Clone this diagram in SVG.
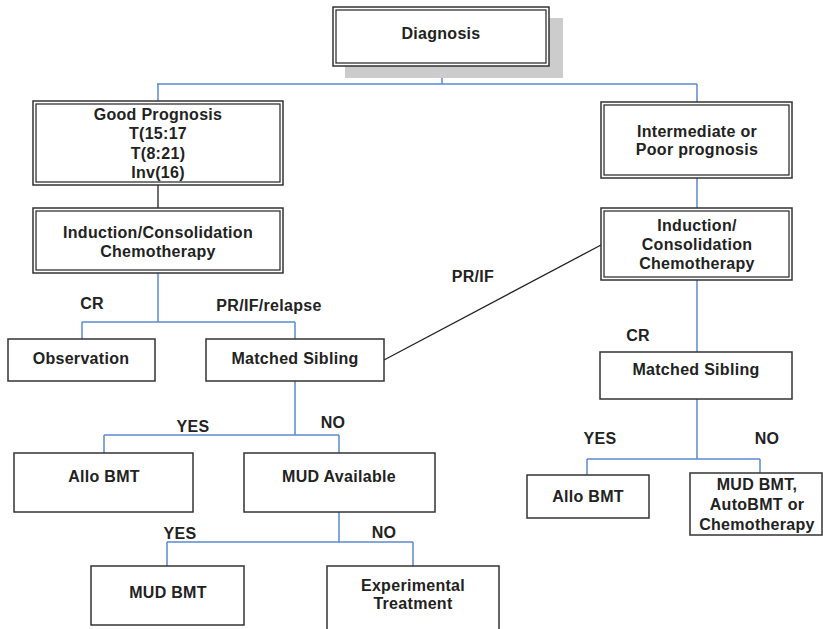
<svg xmlns="http://www.w3.org/2000/svg" width="823" height="629" viewBox="0 0 823 629">
<style>
  text { font-family: "Liberation Sans", Arial, sans-serif; font-weight: bold; font-size: 16px; letter-spacing: 0.3px; fill: #222; text-anchor: middle; }
  .box { fill: #fff; stroke: #333; stroke-width: 1.5; }
  .inner { fill: none; stroke: #333; stroke-width: 1.3; }
  .shadow { fill: #cccccc; stroke: none; }
  .blue { fill: none; stroke: #5b8bd2; stroke-width: 1.5; }
  .black { fill: none; stroke: #222; stroke-width: 1.3; }
</style>
<rect x="0" y="0" width="823" height="629" fill="#fff"/>
<g id="connectors">
  <path class="blue" d="M442,66 V84 M157,84 H697 M158,84 V101 M697,84 V102"/>
  <path class="black" d="M158,185 V208"/>
  <path class="blue" d="M158,273 V322 M82,322 H295 M82,322 V339 M295,322 V339"/>
  <path class="blue" d="M697,178 V208 M697,280 V352"/>
  <path class="black" d="M384,360 L601,245"/>
  <path class="blue" d="M295,381 V435 M104,435 H339 M104,435 V453 M339,435 V453"/>
  <path class="blue" d="M339,512 V542 M167,542 H413 M167,542 V566 M413,542 V566"/>
  <path class="blue" d="M697,399 V459 M587,459 H760 M587,459 V475 M760,459 V473"/>
</g>
<g id="labels">
  <text x="92" y="309">CR</text>
  <text x="269" y="311">PR/IF/relapse</text>
  <text x="473" y="282">PR/IF</text>
  <text x="638" y="341">CR</text>
  <text x="193" y="432">YES</text>
  <text x="333" y="428">NO</text>
  <text x="180" y="539">YES</text>
  <text x="384" y="538">NO</text>
  <text x="600" y="444">YES</text>
  <text x="767" y="444">NO</text>
</g>
<g id="diagnosis">
  <rect class="shadow" x="345" y="18" width="218" height="60"/>
  <rect class="box" x="333" y="7" width="216" height="59"/>
  <rect class="inner" x="336" y="10" width="210" height="53"/>
  <text x="441" y="39">Diagnosis</text>
</g>
<g id="good-prognosis">
  <rect class="box" x="33" y="101" width="250" height="84"/>
  <rect class="inner" x="36" y="104" width="244" height="78"/>
  <text x="158" y="120">Good Prognosis</text>
  <text x="158" y="139">T(15:17</text>
  <text x="158" y="159">T(8:21)</text>
  <text x="158" y="178">Inv(16)</text>
</g>
<g id="induction-left">
  <rect class="box" x="33" y="208" width="250" height="65"/>
  <rect class="inner" x="36" y="211" width="244" height="59"/>
  <text x="158" y="238">Induction/Consolidation</text>
  <text x="158" y="257">Chemotherapy</text>
</g>
<g id="intermediate">
  <rect class="box" x="601" y="102" width="191" height="76"/>
  <rect class="inner" x="604" y="105" width="185" height="70"/>
  <text x="697" y="137">Intermediate or</text>
  <text x="697" y="155">Poor prognosis</text>
</g>
<g id="induction-right">
  <rect class="box" x="601" y="208" width="191" height="72"/>
  <rect class="inner" x="604" y="211" width="185" height="66"/>
  <text x="697" y="231">Induction/</text>
  <text x="697" y="250">Consolidation</text>
  <text x="697" y="269">Chemotherapy</text>
</g>
<g id="observation">
  <rect class="box" x="8" y="339" width="147" height="42"/>
  <text x="81" y="364">Observation</text>
</g>
<g id="matched-sibling-left">
  <rect class="box" x="206" y="339" width="178" height="42"/>
  <text x="295" y="364">Matched Sibling</text>
</g>
<g id="matched-sibling-right">
  <rect class="box" x="600" y="352" width="192" height="47"/>
  <text x="696" y="375">Matched Sibling</text>
</g>
<g id="allo-bmt-left">
  <rect class="box" x="14" y="453" width="179" height="59"/>
  <text x="104" y="482">Allo BMT</text>
</g>
<g id="mud-available">
  <rect class="box" x="244" y="453" width="191" height="59"/>
  <text x="339" y="482">MUD Available</text>
</g>
<g id="mud-bmt">
  <rect class="box" x="91" y="566" width="153" height="59"/>
  <text x="168" y="598">MUD BMT</text>
</g>
<g id="experimental">
  <rect class="box" x="327" y="566" width="172" height="75"/>
  <text x="413" y="591">Experimental</text>
  <text x="413" y="609">Treatment</text>
</g>
<g id="allo-bmt-right">
  <rect class="box" x="527" y="475" width="122" height="43"/>
  <text x="588" y="502">Allo BMT</text>
</g>
<g id="mud-auto-chemo">
  <rect class="box" x="690" y="473" width="132" height="62"/>
  <text x="757" y="490">MUD BMT,</text>
  <text x="757" y="510">AutoBMT or</text>
  <text x="757" y="530">Chemotherapy</text>
</g>
</svg>
